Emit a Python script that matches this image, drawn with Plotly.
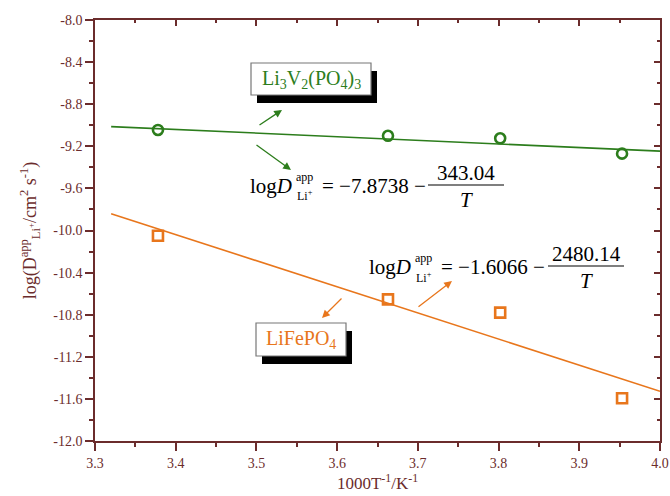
import plotly.graph_objects as go

# Inverse temperature, 1000/T (K^-1)
inv_T = [3.378, 3.663, 3.802, 3.953]

# Apparent Li+ diffusion coefficients, log10(D / cm^2 s^-1)
log_d_lvp = [-9.045, -9.100, -9.124, -9.270]     # Li3V2(PO4)3
log_d_lfp = [-10.050, -10.654, -10.780, -11.594]  # LiFePO4

# Arrhenius fits: logD = a - b/T  ->  logD = a - (b/1000) * (1000/T)
fit_lvp = (-7.8738, 343.04)
fit_lfp = (-1.6066, 2480.14)
fit_x = [3.32, 4.0]

# Axis ticks
x_ticks = [3.3, 3.4, 3.5, 3.6, 3.7, 3.8, 3.9, 4.0]
x_tick_text = ["3.3", "3.4", "3.5", "3.6", "3.7", "3.8", "3.9", "4.0"]
y_ticks = [-8.0, -8.4, -8.8, -9.2, -9.6, -10.0, -10.4, -10.8, -11.2, -11.6, -12.0]
y_tick_text = ["-8.0", "-8.4", "-8.8", "-9.2", "-9.6", "-10.0", "-10.4", "-10.8",
               "-11.2", "-11.6", "-12.0"]

GREEN = "#2c7d1c"
ORANGE = "#e8761c"
AXIS = "#6b2c2c"
SERIF = "Liberation Serif"

W, H = 670, 496
L, R, T, B = 95, 660, 20, 441


def px(x):
    return (x - L) / (R - L)


def py(y):
    return (B - y) / (B - T)


def fit_line(fit):
    a, b = fit
    return [a - b / 1000.0 * x for x in fit_x]


fig = go.Figure()

fig.add_trace(go.Scatter(x=fit_x, y=fit_line(fit_lvp), mode="lines",
                         line=dict(color=GREEN, width=1.6), showlegend=False))
fig.add_trace(go.Scatter(x=fit_x, y=fit_line(fit_lfp), mode="lines",
                         line=dict(color=ORANGE, width=1.6), showlegend=False))
fig.add_trace(go.Scatter(x=inv_T, y=log_d_lvp, mode="markers",
                         marker=dict(symbol="circle-open", size=10, color=GREEN,
                                     line=dict(width=2.6, color=GREEN)),
                         showlegend=False))
fig.add_trace(go.Scatter(x=inv_T, y=log_d_lfp, mode="markers",
                         marker=dict(symbol="square-open", size=10, color=ORANGE,
                                     line=dict(width=2.6, color=ORANGE)),
                         showlegend=False))
# carrier trace for the mirrored frame axes
fig.add_trace(go.Scatter(x=[3.3], y=[-12], xaxis="x2", yaxis="y2", mode="markers",
                         marker=dict(opacity=0), showlegend=False, hoverinfo="skip"))

axis_common = dict(showline=True, linecolor=AXIS, linewidth=1.5, showgrid=False,
                   zeroline=False, tickcolor=AXIS, tickwidth=1.5, automargin=False)

fig.update_layout(
    width=W, height=H,
    margin=dict(l=L, r=W - R, t=T, b=H - B),
    paper_bgcolor="white", plot_bgcolor="white",
    font=dict(family=SERIF, color=AXIS),
    xaxis=dict(range=[3.3, 4.0], tickvals=x_ticks, ticktext=x_tick_text,
               ticks="outside", ticklen=8, tickfont=dict(size=14, family=SERIF, color=AXIS),
               minor=dict(ticks="outside", ticklen=4, dtick=0.05, tick0=3.3,
                          tickcolor=AXIS, tickwidth=1.5),
               title=dict(text="1000T<sup>-1</sup>/K<sup>-1</sup>", standoff=8,
                          font=dict(size=17, family=SERIF, color=AXIS)),
               **axis_common),
    yaxis=dict(range=[-12.0, -8.0], tickvals=y_ticks, ticktext=y_tick_text,
               ticks="outside", ticklen=8, tickfont=dict(size=14, family=SERIF, color=AXIS),
               minor=dict(ticks="outside", ticklen=4, dtick=0.2, tick0=-12.0,
                          tickcolor=AXIS, tickwidth=1.5),
               title=dict(text="log(D<sup>app</sup><sub>Li<sup>+</sup></sub>/cm<sup>2</sup> s<sup>-1</sup>)",
                          standoff=12, font=dict(size=18, family=SERIF, color=AXIS)),
               **axis_common),
    xaxis2=dict(range=[3.3, 4.0], overlaying="x", side="top", anchor="y2",
                tickvals=x_ticks, showticklabels=False, ticks="inside", ticklen=6,
                minor=dict(ticks="inside", ticklen=3, dtick=0.05, tick0=3.3,
                           tickcolor=AXIS, tickwidth=1.5),
                **axis_common),
    yaxis2=dict(range=[-12.0, -8.0], overlaying="y", side="right", anchor="x2",
                tickvals=y_ticks, showticklabels=False, ticks="inside", ticklen=6,
                minor=dict(ticks="inside", ticklen=3, dtick=0.2, tick0=-12.0,
                           tickcolor=AXIS, tickwidth=1.5),
                **axis_common),
)

shapes = []
annotations = []


def label_box(x0, y0, x1, y1, text, color, dx=6, dy=8):
    # drop shadow, then white framed box
    shapes.append(dict(type="rect", xref="paper", yref="paper",
                       x0=px(x0 + dx), x1=px(x1 + dx), y0=py(y1 + dy), y1=py(y0 + dy),
                       fillcolor="black", line=dict(width=0), layer="above"))
    shapes.append(dict(type="rect", xref="paper", yref="paper",
                       x0=px(x0), x1=px(x1), y0=py(y1), y1=py(y0),
                       fillcolor="white", line=dict(color="#777777", width=1.2),
                       layer="above"))
    annotations.append(dict(xref="paper", yref="paper", x=px((x0 + x1) / 2),
                            y=py((y0 + y1) / 2), text=text, showarrow=False,
                            xanchor="center", yanchor="middle",
                            font=dict(size=20, family=SERIF, color=color)))


def arrow(tail, head, color):
    annotations.append(dict(xref="paper", yref="paper", x=px(head[0]), y=py(head[1]),
                            ax=tail[0] - head[0], ay=tail[1] - head[1], text="",
                            showarrow=True, arrowhead=2, arrowsize=1.2, arrowwidth=1.3,
                            arrowcolor=color))


def equation(x_left, y_mid, const, numer, frac_cx):
    f = dict(family=SERIF, color="black")
    annotations.append(dict(xref="paper", yref="paper", x=px(x_left), y=py(y_mid),
                            text="log<i>D</i>", showarrow=False, xanchor="left",
                            yanchor="middle", font=dict(size=21, **f)))
    annotations.append(dict(xref="paper", yref="paper", x=px(x_left + 46), y=py(y_mid - 9),
                            text="app", showarrow=False, xanchor="left",
                            yanchor="middle", font=dict(size=12, **f)))
    annotations.append(dict(xref="paper", yref="paper", x=px(x_left + 47), y=py(y_mid + 10),
                            text="Li<sup>+</sup>", showarrow=False, xanchor="left",
                            yanchor="middle", font=dict(size=12, **f)))
    annotations.append(dict(xref="paper", yref="paper", x=px(x_left + 72), y=py(y_mid),
                            text="= \u2212" + const + " \u2212", showarrow=False,
                            xanchor="left", yanchor="middle", font=dict(size=21, **f)))
    annotations.append(dict(xref="paper", yref="paper", x=px(frac_cx), y=py(y_mid - 13),
                            text=numer, showarrow=False, xanchor="center",
                            yanchor="middle", font=dict(size=21, **f)))
    annotations.append(dict(xref="paper", yref="paper", x=px(frac_cx), y=py(y_mid + 14),
                            text="<i>T</i>", showarrow=False, xanchor="center",
                            yanchor="middle", font=dict(size=21, **f)))
    shapes.append(dict(type="line", xref="paper", yref="paper",
                       x0=px(frac_cx - 38), x1=px(frac_cx + 38),
                       y0=py(y_mid - 1), y1=py(y_mid - 1),
                       line=dict(color="black", width=1.2), layer="above"))


label_box(251, 63, 371, 95, "Li<sub>3</sub>V<sub>2</sub>(PO<sub>4</sub>)<sub>3</sub>", GREEN)
label_box(256, 323, 346, 356, "LiFePO<sub>4</sub>", ORANGE)

arrow((258, 126), (282, 110), GREEN)
arrow((255, 144), (291, 170), GREEN)
arrow((343, 297), (322, 318), ORANGE)
arrow((417, 308), (452, 281), ORANGE)

equation(248, 186, "7.8738", "343.04", 466)
equation(367, 267, "1.6066", "2480.14", 586)

fig.update_layout(shapes=shapes, annotations=annotations)

fig.write_html("out.html")
